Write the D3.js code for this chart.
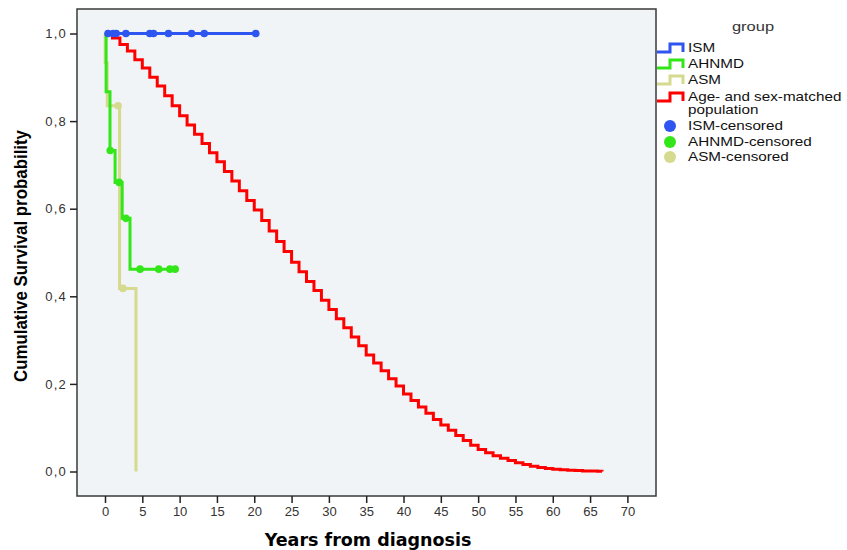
<!DOCTYPE html>
<html>
<head>
<meta charset="utf-8">
<script src="https://cdn.jsdelivr.net/npm/d3@7"></script>
<style>
  body { margin: 0; background: #fff; }
  text { font-family: "Liberation Sans", Arial, sans-serif; }
</style>
</head>
<body>
<svg id="chart" width="847" height="550"></svg>
<script>
// data (years, survival)
var ismTimes   = [0, 20.2];
var ismSurv    = [1, 1];
var ismCens    = [0.4, 1.1, 1.5, 2.8, 6.0, 6.5, 8.5, 11.6, 13.3, 20.2];

var ahnmdTimes = [0, 0.15, 0.67, 1.35, 2.3, 3.35, 9.4];
var ahnmdSurv  = [1, 0.867, 0.733, 0.66, 0.578, 0.462, 0.462];
var ahnmdCens  = [[0.7, 0.733], [1.9, 0.66], [2.8, 0.578], [4.7, 0.462], [7.2, 0.462], [8.7, 0.462], [9.4, 0.462]];

var asmTimes   = [0, 0.02, 0.3, 1.95, 4.15];
var asmSurv    = [1, 0.933, 0.835, 0.418, 0];
var asmCens    = [[1.75, 0.835], [2.4, 0.418]];

var popTimes = [0, 1, 2, 3, 4, 5, 6, 7, 8, 9, 10, 11, 12, 13, 14, 15, 16, 17, 18, 19, 20,
  21, 22, 23, 24, 25, 26, 27, 28, 29, 30, 31, 32, 33, 34, 35, 36, 37, 38, 39, 40,
  41, 42, 43, 44, 45, 46, 47, 48, 49, 50, 51, 52, 53, 54, 55, 56, 57, 58, 59, 60,
  61, 62, 63, 64, 65, 66, 66.6];
var popSurv = [1.000, 0.990, 0.975, 0.960, 0.940, 0.921, 0.900, 0.880, 0.858, 0.835, 0.812,
  0.791, 0.770, 0.749, 0.728, 0.707, 0.685, 0.663, 0.641, 0.619, 0.597,
  0.573, 0.549, 0.525, 0.502, 0.478, 0.456, 0.434, 0.413, 0.391, 0.370,
  0.349, 0.328, 0.307, 0.287, 0.266, 0.248, 0.230, 0.212, 0.195, 0.177,
  0.162, 0.147, 0.133, 0.119, 0.106, 0.094, 0.082, 0.071, 0.060, 0.050,
  0.043, 0.036, 0.030, 0.025, 0.020, 0.016, 0.012, 0.009, 0.007, 0.005,
  0.004, 0.003, 0.002, 0.001, 0.001, 0.0005, 0];

var xTicks = [0, 5, 10, 15, 20, 25, 30, 35, 40, 45, 50, 55, 60, 65, 70];
var yTicks = [0, 0.2, 0.4, 0.6, 0.8, 1.0];

var legendLines = [
  {label: ["ISM"], color: "#2f55f0"},
  {label: ["AHNMD"], color: "#33e61a"},
  {label: ["ASM"], color: "#d6da8e"},
  {label: ["Age- and sex-matched", "population"], color: "#ff0000"}
];
var legendDots = [
  {label: "ISM-censored", color: "#2f55f0"},
  {label: "AHNMD-censored", color: "#33e61a"},
  {label: "ASM-censored", color: "#d6da8e"}
];

var svg = d3.select("#chart");
var boxL = 77, boxT = 9, boxR = 656, boxB = 496;

var x = d3.scaleLinear().domain([0, 70]).range([105, 627.4]);
var y = d3.scaleLinear().domain([0, 1]).range([471.5, 33.5]);

// plot box
svg.append("rect")
  .attr("x", boxL).attr("y", boxT)
  .attr("width", boxR - boxL).attr("height", boxB - boxT)
  .attr("fill", "#f1f4f6")
  .attr("stroke", "#3a3a3a").attr("stroke-width", 1.5);

// axes
var fmt = function (d) { return d3.format(".1f")(d).replace(".", ","); };
var yAxis = svg.append("g")
  .attr("transform", "translate(" + boxL + ",0)")
  .call(d3.axisLeft(y).tickValues(yTicks).tickFormat(fmt).tickSize(7).tickPadding(3));
var xAxis = svg.append("g")
  .attr("transform", "translate(0," + boxB + ")")
  .call(d3.axisBottom(x).tickValues(xTicks).tickSize(7).tickPadding(4));
[yAxis, xAxis].forEach(function (a) {
  a.select(".domain").remove();
  a.selectAll(".tick line").attr("stroke", "#222").attr("stroke-width", 1.5);
  a.selectAll(".tick text").attr("fill", "#333").style("font-size", "13px")
    .style("font-family", "'Liberation Sans', Arial, sans-serif");
});
yAxis.selectAll(".tick text").style("letter-spacing", "1.2px");

// step curves
var line = d3.line()
  .x(function (d) { return x(d[0]); })
  .y(function (d) { return y(d[1]); })
  .curve(d3.curveStepAfter);

function pairs(ts, ss) { return ts.map(function (t, i) { return [t, ss[i]]; }); }

var curves = [
  {pts: pairs(popTimes, popSurv), color: "#ff0000"},
  {pts: pairs(asmTimes, asmSurv), color: "#d6da8e"},
  {pts: pairs(ahnmdTimes, ahnmdSurv), color: "#33e61a"},
  {pts: pairs(ismTimes, ismSurv), color: "#2f55f0"}
];
curves.forEach(function (c) {
  svg.append("path").datum(c.pts)
    .attr("d", line)
    .attr("fill", "none")
    .attr("stroke", c.color)
    .attr("stroke-width", 3);
});

// censored marks
function dots(data, color) {
  svg.append("g").selectAll("circle").data(data).enter().append("circle")
    .attr("cx", function (d) { return x(d[0]); })
    .attr("cy", function (d) { return y(d[1]); })
    .attr("r", 3.8)
    .attr("fill", color);
}
dots(asmCens, "#d6da8e");
dots(ahnmdCens, "#33e61a");
dots(ismCens.map(function (t) { return [t, 1]; }), "#2f55f0");

// axis titles
svg.append("text")
  .attr("transform", "translate(27,256) rotate(-90)")
  .attr("text-anchor", "middle")
  .attr("textLength", 252).attr("lengthAdjust", "spacingAndGlyphs")
  .style("font-weight", "bold").style("font-size", "18px")
  .text("Cumulative Survival probability");
svg.append("text")
  .attr("x", 368).attr("y", 546)
  .attr("text-anchor", "middle")
  .style("font-family", "'DejaVu Sans', Verdana, sans-serif")
  .style("font-weight", "bold").style("font-size", "17.5px")
  .text("Years from diagnosis");

// legend (text in the picture is drawn a little wide)
function legendText(tx, ty, s, size, anchor, fill) {
  svg.append("text")
    .attr("transform", "translate(" + tx + "," + ty + ") scale(1.22,1)")
    .attr("text-anchor", anchor || "start")
    .attr("fill", fill || "#111")
    .style("font-size", size + "px")
    .text(s);
}
legendText(753, 31, "group", 13.5, "middle", "#333");

var ly = [48, 64, 80, 97];
legendLines.forEach(function (d, i) {
  var yy = ly[i];
  svg.append("path")
    .attr("d", "M657," + (yy + 4) + "H670V" + (yy - 4) + "H683V" + (yy + 4))
    .attr("fill", "none").attr("stroke", d.color).attr("stroke-width", 3);
  d.label.forEach(function (s, j) {
    legendText(688, yy + 4 + j * 13, s, 12.5);
  });
});
var dy = [126, 142, 157];
legendDots.forEach(function (d, i) {
  svg.append("circle").attr("cx", 670).attr("cy", dy[i]).attr("r", 6).attr("fill", d.color);
  legendText(688, dy[i] + 4, d.label, 12.5);
});
</script>
</body>
</html>
